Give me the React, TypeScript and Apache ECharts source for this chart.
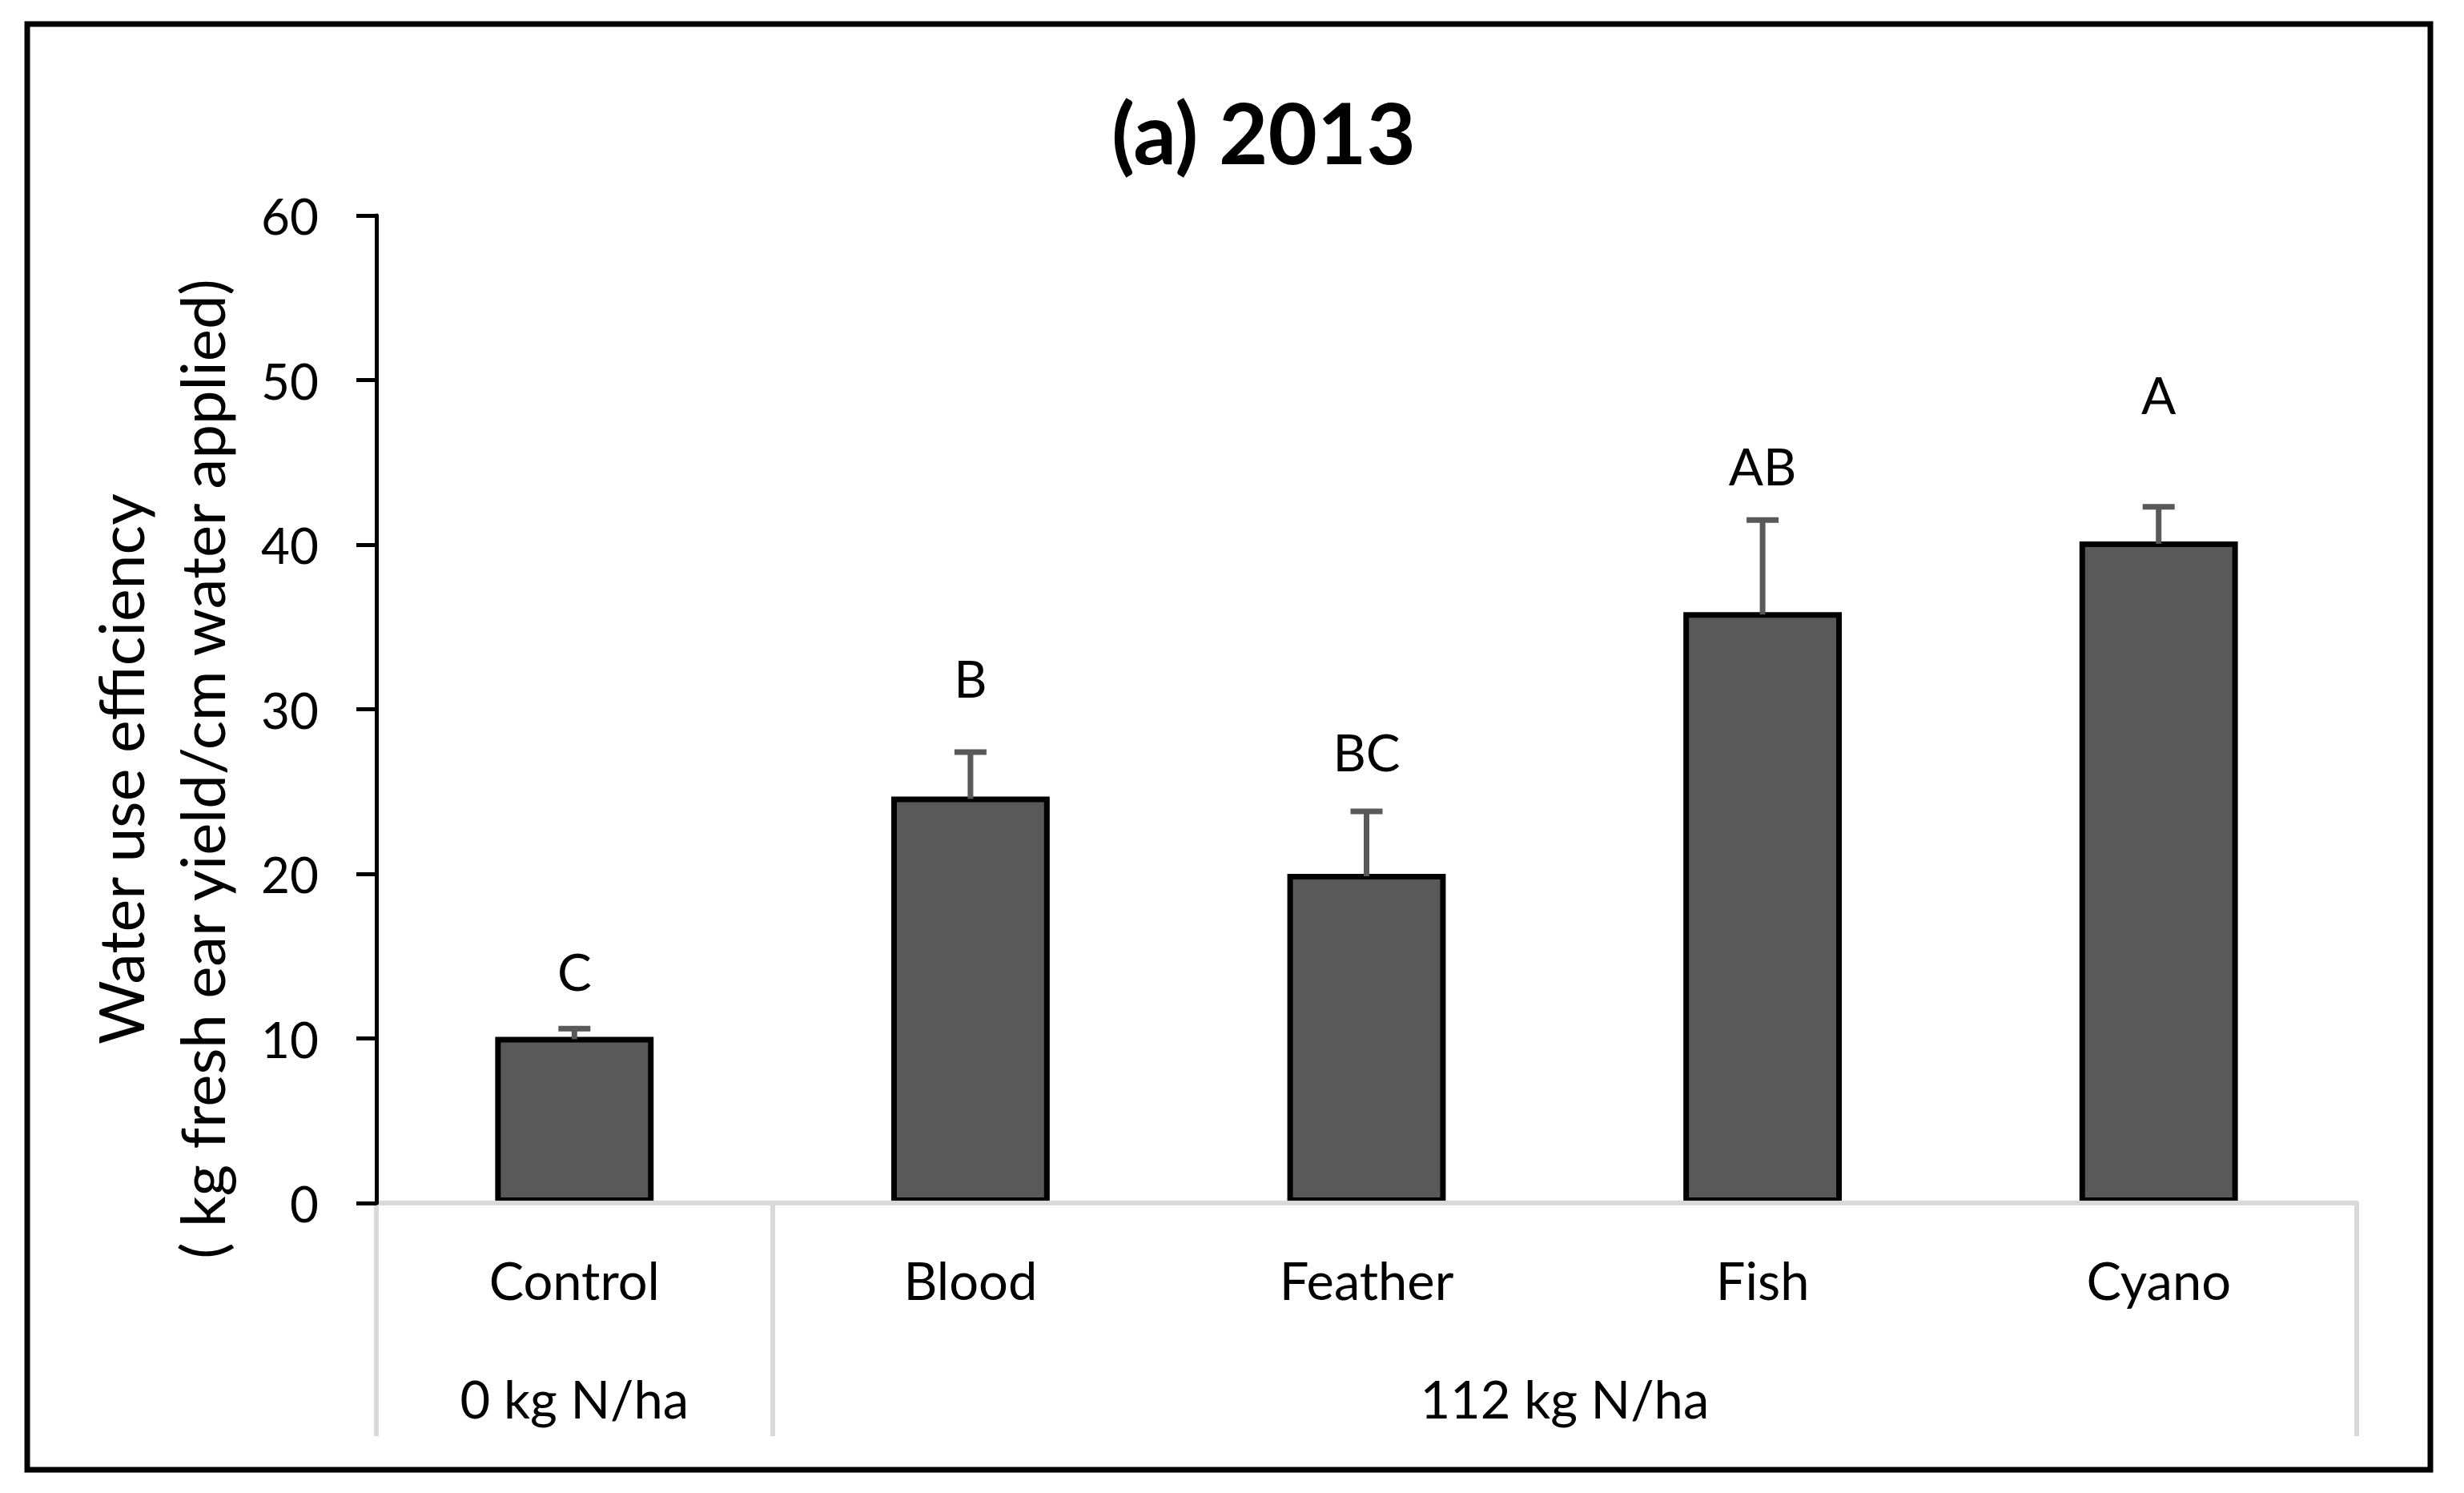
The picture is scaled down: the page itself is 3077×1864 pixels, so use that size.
import React, { useEffect, useRef } from "react";
import * as echarts from "echarts";

// ---- data ----
const categories = ["Control", "Blood", "Feather", "Fish", "Cyano"];
const wue = [10.1, 24.7, 20.0, 35.9, 40.2];
const errPlus = [0.5, 2.7, 3.8, 5.6, 2.1];
const letters = ["C", "B", "BC", "AB", "A"];
const letterY = [14.1, 31.9, 27.4, 44.8, 49.1];
const groupLabels = ["0 kg N/ha", "112 kg N/ha"];
const groupStart = [0, 1];
const groupEnd = [0, 4];
const yMin = 0;
const yMax = 60;
const yStep = 10;
const titleText = "(a) 2013";
const yTitleLines = ["Water use efficiency", "( kg fresh ear yield/cm water applied)"];

const FONT = "Lato, 'Open Sans', sans-serif";

export default function App() {
  const ref = useRef<HTMLDivElement>(null);

  useEffect(() => {
    if (!ref.current) return;
    const chart = echarts.init(ref.current, null, { renderer: "svg" });

    const option: any = {
      animation: false,
      backgroundColor: "#ffffff",
      grid: { left: 470, right: 134, top: 269, bottom: 362, containLabel: false },
      xAxis: {
        type: "category",
        data: categories,
        z: 5,
        axisLine: { show: true, lineStyle: { color: "#d9d9d9", width: 6 } },
        axisTick: {
          show: true,
          interval: (i: number) => groupStart.includes(i),
          length: 291,
          lineStyle: { color: "#d9d9d9", width: 6 },
        },
        axisLabel: {
          interval: 0,
          margin: 96,
          verticalAlign: "middle",
          fontSize: 65,
          fontFamily: FONT,
          color: "#000",
        },
        splitLine: { show: false },
      },
      yAxis: {
        type: "value",
        min: yMin,
        max: yMax,
        interval: yStep,
        z: 6,
        axisLine: { show: true, lineStyle: { color: "#000", width: 5 } },
        axisTick: { show: true, length: 25, lineStyle: { color: "#000", width: 5 } },
        axisLabel: { margin: 72, fontSize: 62, fontFamily: FONT, color: "#000" },
        splitLine: { show: false },
      },
      series: [
        {
          type: "bar",
          data: wue,
          barWidth: "40%",
          itemStyle: { color: "#595959", borderColor: "#000", borderWidth: 7 },
          z: 2,
        },
        {
          type: "custom",
          z: 4,
          data: wue.map((v, i) => [i, v, errPlus[i]]),
          renderItem: (params: any, api: any) => {
            const idx = api.value(0);
            const v = api.value(1);
            const e = api.value(2);
            const base = api.coord([idx, v]);
            const top = api.coord([idx, v + e]);
            const stroke = { stroke: "#595959", lineWidth: 7 };
            return {
              type: "group",
              children: [
                {
                  type: "line",
                  shape: { x1: base[0], y1: base[1] + 3, x2: top[0], y2: top[1] },
                  style: stroke,
                },
                {
                  type: "line",
                  shape: { x1: top[0] - 20, y1: top[1], x2: top[0] + 20, y2: top[1] },
                  style: stroke,
                },
              ],
            };
          },
        },
        {
          type: "custom",
          z: 4,
          data: letterY.map((v, i) => [i, v]),
          renderItem: (params: any, api: any) => {
            const p = api.coord([api.value(0), api.value(1)]);
            return {
              type: "text",
              x: p[0],
              y: p[1],
              style: {
                text: letters[params.dataIndex],
                fontSize: 64,
                fontFamily: FONT,
                fill: "#000",
                align: "center",
                verticalAlign: "middle",
              },
            };
          },
        },
      ],
    };

    chart.setOption(option);

    const groupGraphics = groupLabels.map((lab, i) => {
      const x0 = chart.convertToPixel({ xAxisIndex: 0 }, categories[groupStart[i]]) as number;
      const x1 = chart.convertToPixel({ xAxisIndex: 0 }, categories[groupEnd[i]]) as number;
      return {
        type: "text",
        x: (x0 + x1) / 2,
        y: 1746,
        style: {
          text: lab,
          fontSize: 65,
          fontFamily: FONT,
          fill: "#000",
          align: "center",
          verticalAlign: "middle",
        },
      };
    });

    chart.setOption({
      graphic: [
        {
          type: "rect",
          shape: { x: 34, y: 30, width: 3001, height: 1805 },
          style: { fill: "none", stroke: "#000", lineWidth: 7 },
          z: 10,
        },
        {
          type: "text",
          x: 1578,
          y: 164,
          style: {
            text: titleText,
            fontSize: 106,
            fontWeight: "bold",
            fontFamily: FONT,
            fill: "#000",
            align: "center",
            verticalAlign: "middle",
          },
        },
        {
          type: "text",
          x: 150,
          y: 960,
          rotation: Math.PI / 2,
          style: {
            text: yTitleLines[0],
            fontSize: 77,
            fontFamily: FONT,
            fill: "#000",
            align: "center",
            verticalAlign: "middle",
          },
        },
        {
          type: "text",
          x: 251,
          y: 960,
          rotation: Math.PI / 2,
          style: {
            text: yTitleLines[1],
            fontSize: 76,
            fontFamily: FONT,
            fill: "#000",
            align: "center",
            verticalAlign: "middle",
          },
        },
        ...groupGraphics,
      ],
    });

    return () => chart.dispose();
  }, []);

  return (
    <div
      ref={ref}
      style={{ position: "fixed", left: 0, top: 0, width: 3077, height: 1864, background: "#fff" }}
    />
  );
}
